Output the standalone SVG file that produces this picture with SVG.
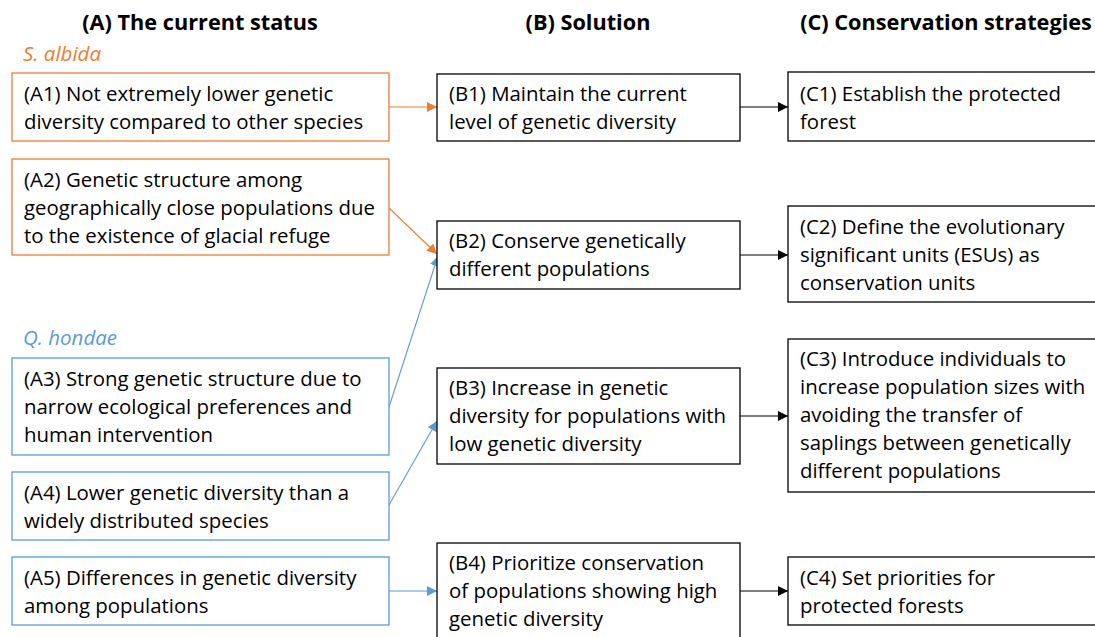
<svg xmlns="http://www.w3.org/2000/svg" width="1095" height="637" viewBox="0 0 1095 637">
<style>
text{font-family:"Open Sans","Noto Sans","Liberation Sans",sans-serif;fill:#000}
.h{font-size:21.7px;font-weight:bold;text-anchor:middle}
.t{font-size:20.4px}
.sp{font-size:20.5px;font-style:italic}
.bo{fill:#fff;stroke:#ED7D31;stroke-width:1.3}
.bb{fill:#fff;stroke:#5B9BD5;stroke-width:1.3}
.bk{fill:#fff;stroke:#000;stroke-width:1.3}
.co{stroke:#ED7D31;stroke-width:1.1;fill:none}
.cb{stroke:#5B9BD5;stroke-width:1.1;fill:none}
.ck{stroke:#000;stroke-width:1.1;fill:none}
</style>
<defs>
<marker id="mo" viewBox="0 0 10 10" refX="10" refY="5" markerWidth="10" markerHeight="10" markerUnits="userSpaceOnUse" orient="auto"><path d="M0,0L10,5L0,10z" fill="#ED7D31"/></marker>
<marker id="mb" viewBox="0 0 10 10" refX="10" refY="5" markerWidth="10" markerHeight="10" markerUnits="userSpaceOnUse" orient="auto"><path d="M0,0L10,5L0,10z" fill="#5B9BD5"/></marker>
<marker id="mk" viewBox="0 0 10 10" refX="10" refY="5" markerWidth="10" markerHeight="10" markerUnits="userSpaceOnUse" orient="auto"><path d="M0,0L10,5L0,10z" fill="#000"/></marker>
</defs>
<rect width="1095" height="637" fill="#fff"/>
<g id="headers">
<text class="h" x="200" y="30">(A) The current status</text>
<text class="h" x="588" y="30">(B) Solution</text>
<text class="h" x="946" y="30">(C) Conservation strategies</text>
<text class="sp" x="23" y="61" style="fill:#ED7D31">S. albida</text>
<text class="sp" x="23" y="345" style="fill:#5B9BD5">Q. hondae</text>
</g>
<g id="connectors">
<path class="co" d="M389,107L437,107" marker-end="url(#mo)"/>
<path class="co" d="M389,208L437,254" marker-end="url(#mo)"/>
<path class="cb" d="M389,407L438,256" marker-end="url(#mb)"/>
<path class="cb" d="M389,505L437,421" marker-end="url(#mb)"/>
<path class="cb" d="M389,591L437,591" marker-end="url(#mb)"/>
<path class="ck" d="M740,107L788,107" marker-end="url(#mk)"/>
<path class="ck" d="M740,255L788,255" marker-end="url(#mk)"/>
<path class="ck" d="M740,416L788,416" marker-end="url(#mk)"/>
<path class="ck" d="M740,591L788,591" marker-end="url(#mk)"/>
</g>
<g id="A1"><rect class="bo" x="12" y="73" width="377" height="68"/>
<text class="t" x="24" y="101">(A1) Not extremely lower genetic</text>
<text class="t" x="24" y="129">diversity compared to other species</text></g>
<g id="A2"><rect class="bo" x="12" y="159" width="377" height="96"/>
<text class="t" x="24" y="187">(A2) Genetic structure among</text>
<text class="t" x="24" y="215">geographically close populations due</text>
<text class="t" x="24" y="243">to the existence of glacial refuge</text></g>
<g id="A3"><rect class="bb" x="12" y="358" width="377" height="97"/>
<text class="t" x="24" y="386">(A3) Strong genetic structure due to</text>
<text class="t" x="24" y="414">narrow ecological preferences and</text>
<text class="t" x="24" y="442">human intervention</text></g>
<g id="A4"><rect class="bb" x="12" y="472" width="377" height="68"/>
<text class="t" x="24" y="500">(A4) Lower genetic diversity than a</text>
<text class="t" x="24" y="528">widely distributed species</text></g>
<g id="A5"><rect class="bb" x="12" y="557" width="377" height="68"/>
<text class="t" x="24" y="585">(A5) Differences in genetic diversity</text>
<text class="t" x="24" y="613">among populations</text></g>
<g id="B1"><rect class="bk" x="437" y="74" width="303" height="67"/>
<text class="t" x="449" y="101">(B1) Maintain the current</text>
<text class="t" x="449" y="129">level of genetic diversity</text></g>
<g id="B2"><rect class="bk" x="437" y="221" width="303" height="68"/>
<text class="t" x="449" y="248">(B2) Conserve genetically</text>
<text class="t" x="449" y="276">different populations</text></g>
<g id="B3"><rect class="bk" x="437" y="368" width="303" height="96"/>
<text class="t" x="449" y="395">(B3) Increase in genetic</text>
<text class="t" x="449" y="423">diversity for populations with</text>
<text class="t" x="449" y="451">low genetic diversity</text></g>
<g id="B4"><rect class="bk" x="437" y="543" width="303" height="100"/>
<text class="t" x="449" y="570">(B4) Prioritize conservation</text>
<text class="t" x="449" y="598">of populations showing high</text>
<text class="t" x="449" y="626">genetic diversity</text></g>
<g id="C1"><rect class="bk" x="788" y="72" width="312" height="69"/>
<text class="t" x="800" y="101">(C1) Establish the protected</text>
<text class="t" x="800" y="129">forest</text></g>
<g id="C2"><rect class="bk" x="788" y="206" width="312" height="96"/>
<text class="t" x="800" y="234">(C2) Define the evolutionary</text>
<text class="t" x="800" y="262">significant units (ESUs) as</text>
<text class="t" x="800" y="290">conservation units</text></g>
<g id="C3"><rect class="bk" x="788" y="339" width="312" height="153"/>
<text class="t" x="800" y="366">(C3) Introduce individuals to</text>
<text class="t" x="800" y="394">increase population sizes with</text>
<text class="t" x="800" y="422">avoiding the transfer of</text>
<text class="t" x="800" y="450">saplings between genetically</text>
<text class="t" x="800" y="478">different populations</text></g>
<g id="C4"><rect class="bk" x="788" y="557" width="312" height="68"/>
<text class="t" x="800" y="585">(C4) Set priorities for</text>
<text class="t" x="800" y="613">protected forests</text></g>
</svg>
